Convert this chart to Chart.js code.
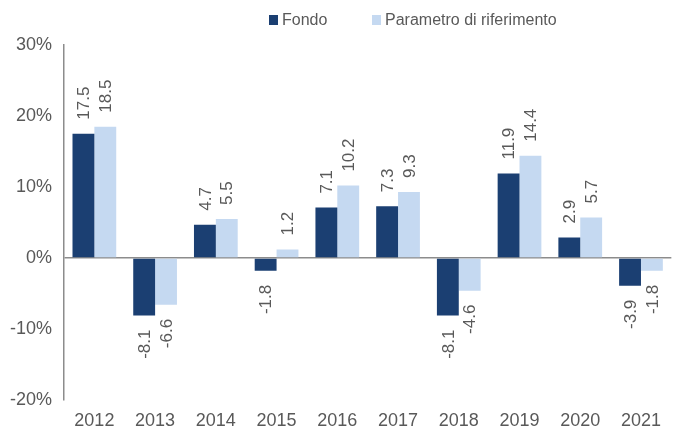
<!DOCTYPE html>
<html>
<head>
<meta charset="utf-8">
<script src="https://cdn.jsdelivr.net/npm/chart.js@4.4.1/dist/chart.umd.min.js"></script>
<style>
	html, body { margin: 0; padding: 0; background: #ffffff; }
	#wrap { width: 673px; height: 429px; position: relative; }
</style>
</head>
<body>
<div id="wrap"><canvas id="chart"></canvas></div>
<script>
var years = ['2012', '2013', '2014', '2015', '2016', '2017', '2018', '2019', '2020', '2021'];
var fondo = [17.5, -8.1, 4.7, -1.8, 7.1, 7.3, -8.1, 11.9, 2.9, -3.9];
var parametro = [18.5, -6.6, 5.5, 1.2, 10.2, 9.3, -4.6, 14.4, 5.7, -1.8];
var seriesNames = ['Fondo', 'Parametro di riferimento'];
var yTicks = [-20, -10, 0, 10, 20, 30];

var textGrey = '#595959';
var axisGrey = '#8c8c8c';
var fontName = '"Liberation Sans", Arial, sans-serif';

// value labels, rotated, above positive bars and below negative ones
var barLabels = {
	id: 'barLabels',
	afterDatasetsDraw: function (chart) {
		var ctx = chart.ctx;
		ctx.save();
		ctx.font = '17px ' + fontName;
		ctx.fillStyle = textGrey;
		ctx.textBaseline = 'middle';
		chart.data.datasets.forEach(function (ds, i) {
			var meta = chart.getDatasetMeta(i);
			meta.data.forEach(function (bar, j) {
				var v = ds.data[j];
				var txt = v.toFixed(1);
				ctx.save();
				if (v >= 0) {
					ctx.translate(bar.x, bar.y - 14);
					ctx.rotate(-Math.PI / 2);
					ctx.textAlign = 'left';
				} else {
					ctx.translate(bar.x, bar.y + 14);
					ctx.rotate(-Math.PI / 2);
					ctx.textAlign = 'right';
				}
				ctx.fillText(txt, 0, 1);
				ctx.restore();
			});
		});
		ctx.restore();
	}
};

// legend drawn by hand so it sits right of centre like the original
var topLegend = {
	id: 'topLegend',
	afterDraw: function (chart) {
		var ctx = chart.ctx;
		var xs = [269, 372];
		ctx.save();
		ctx.font = '16px ' + fontName;
		ctx.textBaseline = 'middle';
		ctx.textAlign = 'left';
		chart.data.datasets.forEach(function (ds, i) {
			ctx.fillStyle = ds.backgroundColor;
			ctx.fillRect(xs[i], 15, 9, 10);
			ctx.fillStyle = textGrey;
			ctx.fillText(ds.label, xs[i] + 13, 21);
		});
		ctx.restore();
	}
};

var ctx = document.getElementById('chart').getContext('2d');
var chart = new Chart(ctx, {
	type: 'bar',
	data: {
		labels: years,
		datasets: [
			{ label: seriesNames[0], data: fondo, backgroundColor: '#1b3f72', categoryPercentage: 0.72, barPercentage: 1.0 },
			{ label: seriesNames[1], data: parametro, backgroundColor: '#c5d9f1', categoryPercentage: 0.72, barPercentage: 1.0 }
		]
	},
	options: {
		responsive: true,
		maintainAspectRatio: false,
		animation: false,
		devicePixelRatio: 1,
		layout: { padding: { top: 45, left: 8, right: -4, bottom: 0 } },
		plugins: {
			legend: { display: false },
			tooltip: { enabled: false }
		},
		scales: {
			x: {
				grid: { display: false, drawTicks: false },
				border: { display: false },
				afterFit: function (scale) { scale.height = 29; },
				ticks: {
					color: textGrey,
					font: { family: fontName, size: 18, lineHeight: 1 },
					padding: 12,
					maxRotation: 0
				}
			},
			y: {
				min: yTicks[0],
				max: yTicks[yTicks.length - 1],
				afterBuildTicks: function (axis) {
					axis.ticks = yTicks.map(function (v) { return { value: v }; });
				},
				afterFit: function (scale) { scale.width = 56; },
				grid: {
					drawTicks: false,
					color: function (c) { return c.tick && c.tick.value === 0 ? axisGrey : 'rgba(0,0,0,0)'; },
					lineWidth: 1.5
				},
				border: { display: true, color: axisGrey, width: 1.5 },
				ticks: {
					color: textGrey,
					font: { family: fontName, size: 18 },
					padding: 12,
					callback: function (v) { return v + '%'; }
				}
			}
		}
	},
	plugins: [barLabels, topLegend]
});
</script>
</body>
</html>
